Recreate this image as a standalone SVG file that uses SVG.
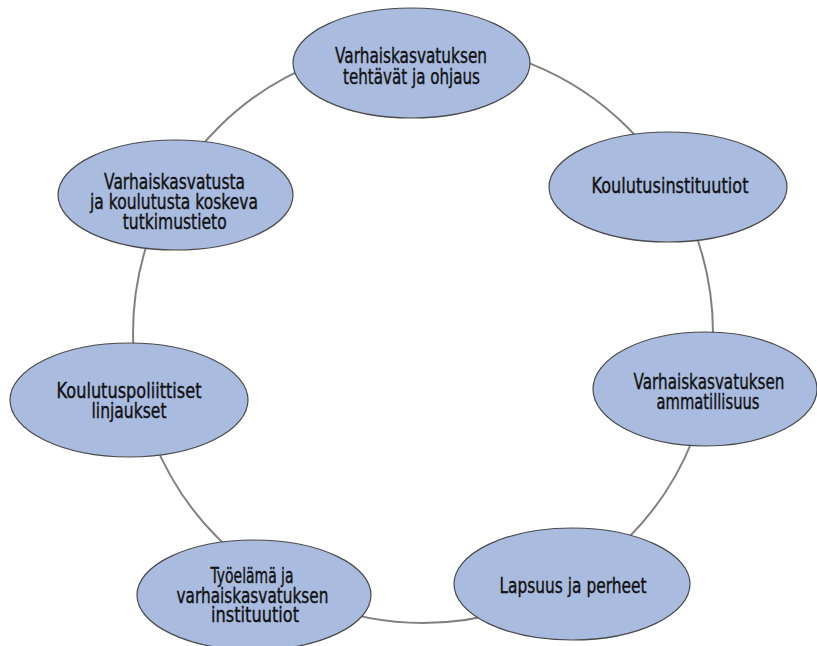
<svg xmlns="http://www.w3.org/2000/svg" width="817" height="646" viewBox="0 0 817 646">
<style>
.n{fill:#a9bbdf;stroke:#4a4a4a;stroke-width:1.2}
.t{font-family:"DejaVu Sans",sans-serif;font-size:21px;fill:#111;stroke:#111;stroke-width:0.4;text-anchor:middle}
.c{fill:none;stroke:#808080;stroke-width:2}
</style>
<rect width="817" height="646" fill="#fff"/>
<g id="connectors">
<circle class="c" cx="423" cy="333" r="290"/>
</g>
<g id="n1">
<ellipse class="n" cx="411.5" cy="63" rx="118.5" ry="55"/>
<text class="t"><tspan x="411" y="63" textLength="152" lengthAdjust="spacingAndGlyphs">Varhaiskasvatuksen</tspan><tspan x="411.5" y="83.5" textLength="137" lengthAdjust="spacingAndGlyphs">tehtävät ja ohjaus</tspan></text>
</g>
<g id="n2">
<ellipse class="n" cx="668" cy="187" rx="119" ry="55"/>
<text class="t"><tspan x="670" y="193" textLength="157" lengthAdjust="spacingAndGlyphs">Koulutusinstituutiot</tspan></text>
</g>
<g id="n3">
<ellipse class="n" cx="705" cy="389" rx="112" ry="57"/>
<text class="t"><tspan x="709" y="389" textLength="151" lengthAdjust="spacingAndGlyphs">Varhaiskasvatuksen</tspan><tspan x="708" y="409" textLength="103" lengthAdjust="spacingAndGlyphs">ammatillisuus</tspan></text>
</g>
<g id="n4">
<ellipse class="n" cx="572" cy="584" rx="118" ry="56"/>
<text class="t"><tspan x="573" y="593" textLength="147" lengthAdjust="spacingAndGlyphs">Lapsuus ja perheet</tspan></text>
</g>
<g id="n5">
<ellipse class="n" cx="254" cy="595" rx="117" ry="55"/>
<text class="t"><tspan x="252" y="583" textLength="83" lengthAdjust="spacingAndGlyphs">Työelämä ja</tspan><tspan x="252.5" y="603" textLength="152" lengthAdjust="spacingAndGlyphs">varhaiskasvatuksen</tspan><tspan x="255" y="622" textLength="88" lengthAdjust="spacingAndGlyphs">instituutiot</tspan></text>
</g>
<g id="n6">
<ellipse class="n" cx="129" cy="400" rx="119" ry="57"/>
<text class="t"><tspan x="129" y="398" textLength="145" lengthAdjust="spacingAndGlyphs">Koulutuspoliittiset</tspan><tspan x="129" y="418" textLength="75" lengthAdjust="spacingAndGlyphs">linjaukset</tspan></text>
</g>
<g id="n7">
<ellipse class="n" cx="175.5" cy="195" rx="117.5" ry="55"/>
<text class="t"><tspan x="174.5" y="188.5" textLength="141" lengthAdjust="spacingAndGlyphs">Varhaiskasvatusta</tspan><tspan x="174" y="209" textLength="168" lengthAdjust="spacingAndGlyphs">ja koulutusta koskeva</tspan><tspan x="174.7" y="229" textLength="104" lengthAdjust="spacingAndGlyphs">tutkimustieto</tspan></text>
</g>
</svg>
